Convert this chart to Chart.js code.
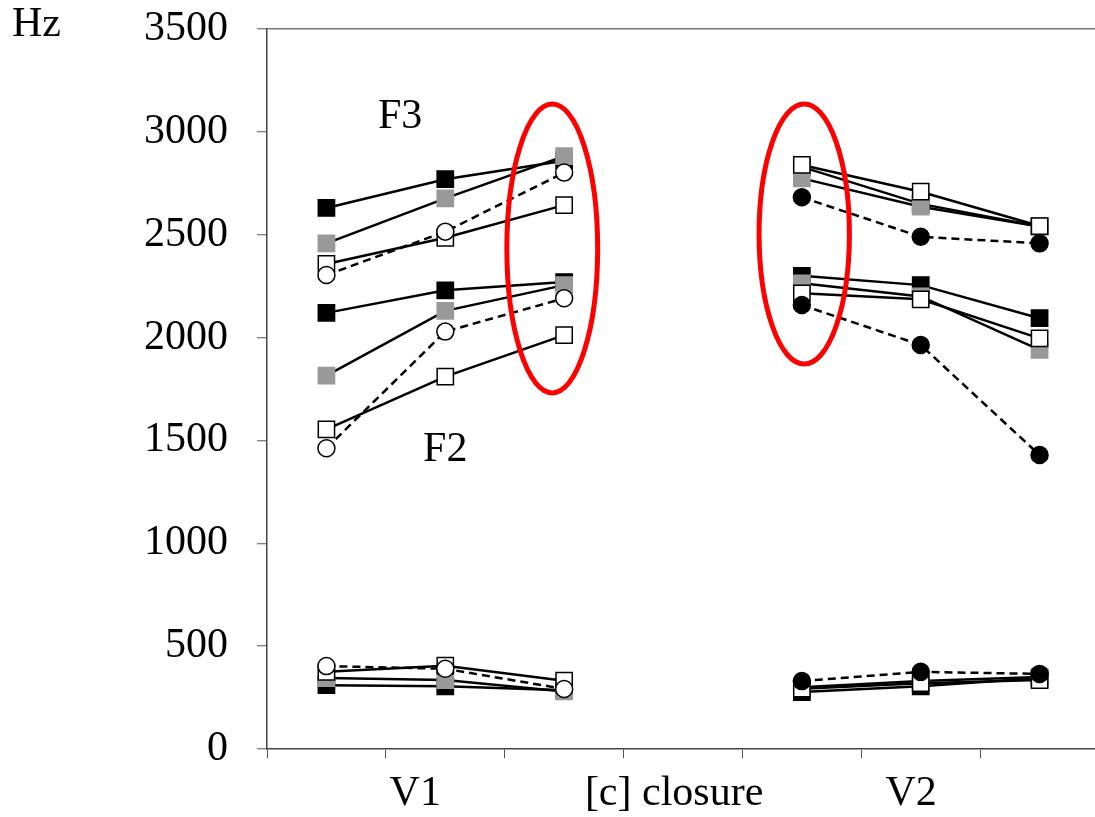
<!DOCTYPE html>
<html>
<head>
<meta charset="utf-8">
<script src="https://cdn.jsdelivr.net/npm/chart.js@4/dist/chart.umd.min.js"></script>
<style>
  html, body { margin: 0; padding: 0; background: #fff; overflow: hidden; }
  #wrap { width: 1112px; height: 817px; }
</style>
</head>
<body>
<div id="wrap"><canvas id="formantChart" width="1112" height="817"></canvas></div>
<script>
// x positions of the measurement points in each vowel
const v1X = [0.5, 1.5, 2.5];
const v2X = [4.5, 5.5, 6.5];

// formant values in Hz, rows are F1, F2, F3
const v1BlackSquare = [[310, 305, 285], [2120, 2230, 2270], [2630, 2770, 2860]];
const v1GraySquare = [[345, 335, 280], [1815, 2130, 2255], [2458, 2677, 2882]];
const v1WhiteSquare = [[375, 405, 332], [1554, 1810, 2012], [2358, 2485, 2644]];
const v1WhiteCircle = [[403, 390, 292], [1462, 2029, 2191], [2304, 2515, 2802]];

const v2BlackSquare = [[277, 305, 345], [2300, 2255, 2094], [2830, 2650, 2540]];
const v2GraySquare = [[300, 330, 350], [2264, 2200, 1940], [2774, 2636, 2540]];
const v2WhiteSquare = [[293, 320, 335], [2215, 2186, 1996], [2839, 2709, 2542]];
const v2BlackCircle = [[330, 375, 365], [2158, 1964, 1429], [2682, 2490, 2458]];

// category labels along the bottom axis
const xLabelPos = [1.247, 3.425, 5.42];
const xLabelText = ["V1", "[c] closure", "V2"];
const xTickMarks = [0, 1, 2, 3, 4, 5, 6, 7];

const yTicks = [0, 500, 1000, 1500, 2000, 2500, 3000, 3500];

// red ellipses around the transition points
const ellipseX = [2.40, 4.52];
const ellipseY = [2433, 2503];
const ellipseRx = [0.382, 0.38];
const ellipseRy = [702, 632];

// formant name labels
const formantNames = ["F3", "F2"];
const formantNameX = [1.12, 1.5];
const formantNameY = [3070, 1455];

const serif = "'Liberation Serif', 'DejaVu Serif', serif";

const styles = {
  blackSquare: { pointStyle: "rect", fill: "#000", edge: "#000", dash: [] },
  graySquare: { pointStyle: "rect", fill: "#999", edge: "#999", dash: [] },
  whiteSquare: { pointStyle: "rect", fill: "#fff", edge: "#000", dash: [] },
  whiteCircle: { pointStyle: "circle", fill: "#fff", edge: "#000", dash: [8, 5] },
  blackCircle: { pointStyle: "circle", fill: "#000", edge: "#000", dash: [8, 5] },
};

function makeSet(xs, ys, style) {
  const s = styles[style];
  const r = s.pointStyle === "rect" ? 11.5 : 8.5;
  return {
    data: xs.map((x, i) => ({ x: x, y: ys[i] })),
    borderColor: "#000",
    borderWidth: 2.5,
    borderDash: s.dash,
    showLine: true,
    pointStyle: s.pointStyle,
    pointRadius: r,
    pointHoverRadius: r,
    pointBackgroundColor: s.fill,
    pointBorderColor: s.edge,
    pointBorderWidth: 1.5,
  };
}

// earlier datasets end up on top
const datasets = [];
for (let f = 0; f < 3; f++) {
  datasets.push(makeSet(v1X, v1WhiteCircle[f], "whiteCircle"));
  datasets.push(makeSet(v1X, v1WhiteSquare[f], "whiteSquare"));
  datasets.push(makeSet(v1X, v1GraySquare[f], "graySquare"));
  datasets.push(makeSet(v1X, v1BlackSquare[f], "blackSquare"));
  datasets.push(makeSet(v2X, v2BlackCircle[f], "blackCircle"));
  datasets.push(makeSet(v2X, v2WhiteSquare[f], "whiteSquare"));
  datasets.push(makeSet(v2X, v2GraySquare[f], "graySquare"));
  datasets.push(makeSet(v2X, v2BlackSquare[f], "blackSquare"));
}

const extras = {
  id: "extras",
  afterDatasetsDraw(chart) {
    const ctx = chart.ctx;
    const xs = chart.scales.x;
    const ys = chart.scales.y;
    ctx.save();
    ctx.strokeStyle = "rgb(255, 0, 0)";
    ctx.lineWidth = 5;
    for (let i = 0; i < ellipseX.length; i++) {
      const cx = xs.getPixelForValue(ellipseX[i]);
      const cy = ys.getPixelForValue(ellipseY[i]);
      const rx = xs.getPixelForValue(ellipseX[i] + ellipseRx[i]) - cx;
      const ry = cy - ys.getPixelForValue(ellipseY[i] + ellipseRy[i]);
      ctx.beginPath();
      ctx.ellipse(cx, cy, rx, ry, 0, 0, Math.PI * 2);
      ctx.stroke();
    }
    ctx.fillStyle = "#000";
    ctx.font = "42px " + serif;
    ctx.textAlign = "center";
    ctx.textBaseline = "middle";
    for (let i = 0; i < formantNames.length; i++) {
      ctx.fillText(formantNames[i], xs.getPixelForValue(formantNameX[i]), ys.getPixelForValue(formantNameY[i]));
    }
    ctx.textAlign = "left";
    ctx.textBaseline = "alphabetic";
    ctx.fillText("Hz", 12, 36);
    ctx.restore();
  },
};

new Chart(document.getElementById("formantChart"), {
  type: "scatter",
  data: { datasets: datasets },
  plugins: [extras],
  options: {
    responsive: false,
    animation: false,
    devicePixelRatio: 1,
    layout: { padding: { top: 29, right: 3, left: 0, bottom: 0 } },
    plugins: {
      legend: { display: false },
      tooltip: { enabled: false },
    },
    scales: {
      x: {
        type: "linear",
        min: 0,
        max: 7,
        afterBuildTicks: (scale) => {
          const vals = xTickMarks.concat(xLabelPos).sort((a, b) => a - b);
          scale.ticks = vals.map((v) => ({ value: v }));
        },
        afterFit: (scale) => {
          scale.height = 68;
          scale.paddingLeft = 0;
          scale.paddingRight = 0;
        },
        border: { display: true, color: "#444", width: 1.5 },
        grid: {
          drawOnChartArea: false,
          tickLength: 9,
          tickWidth: 1,
          tickColor: (c) => (c.tick && xLabelPos.includes(c.tick.value) ? "rgba(0,0,0,0)" : "#555"),
        },
        ticks: {
          autoSkip: false,
          maxRotation: 0,
          padding: 11,
          color: "#000",
          font: { family: serif, size: 42 },
          callback: (v) => {
            const i = xLabelPos.indexOf(v);
            return i >= 0 ? xLabelText[i] : "";
          },
        },
      },
      y: {
        min: 0,
        max: 3500,
        afterBuildTicks: (scale) => {
          scale.ticks = yTicks.map((v) => ({ value: v }));
        },
        afterFit: (scale) => {
          scale.width = 267;
          scale.paddingTop = 0;
          scale.paddingBottom = 0;
        },
        border: { display: true, color: "#444", width: 1.5 },
        grid: {
          color: (c) => (c.tick && c.tick.value === 3500 ? "#777" : "rgba(0,0,0,0)"),
          lineWidth: 1.5,
          tickLength: 10,
          tickColor: "#555",
          tickWidth: 1,
        },
        ticks: {
          padding: 29,
          color: "#000",
          font: { family: serif, size: 42 },
          callback: (v) => String(v),
        },
      },
    },
  },
});
</script>
</body>
</html>
